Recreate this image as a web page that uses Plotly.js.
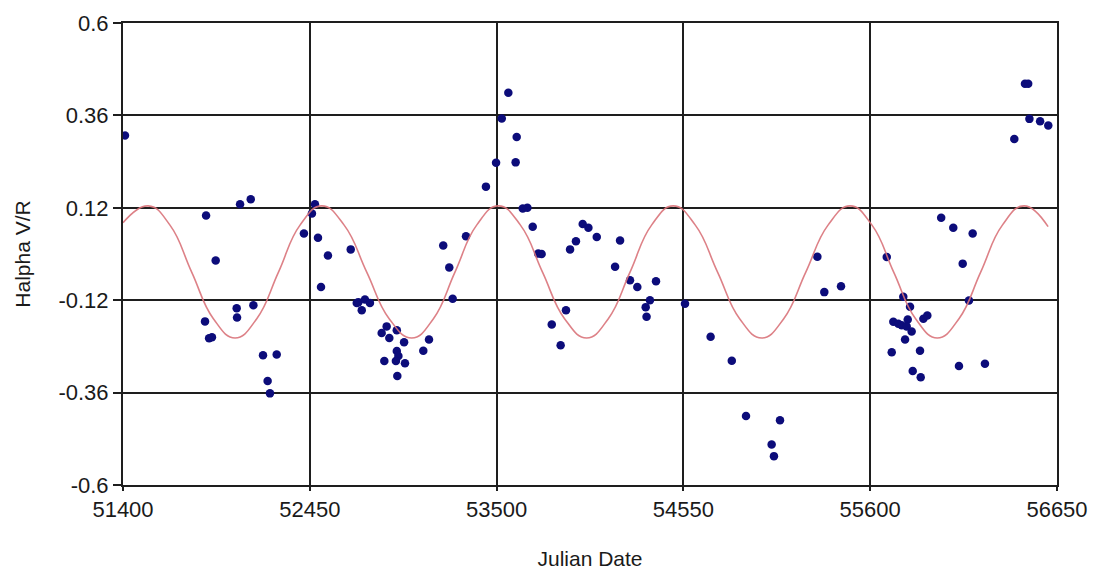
<!DOCTYPE html>
<html>
<head>
<meta charset="utf-8">
<script src="https://cdn.plot.ly/plotly-3.0.1.min.js"></script>
<style>html,body{margin:0;padding:0;background:#fff;}#chart{width:1093px;height:571px;}</style>
</head>
<body>
<div id="chart"></div>
<script>
// Observed Halpha V/R measurements
const obsDate = [51411,51867,52058,52118,52479,52462,52417,52496,51921,52552,52680,52513,52714,52039,52133,52041,51861,51884,51900,52187,52264,52213,52226,
  52723,52760,52788,52742,52882,52854,52897,52939,52980,52939,52948,52934,52869,52985,52942,53088,53120,53200,53234,53253,53328,53440,
  53566,53529,53613,53497,53607,53647,53673,53703,53734,53753,53984,54016,53946,53913,54063,54194,54166,54250,54291,54396,54362,54338,54343,
  54559,53890,53810,53860,54703,54822,54902,55093,55046,55059,55342,55436,55303,55693,55786,55824,55730,55758,55777,55811,55805,55833,
  55899,55921,55796,55721,55880,55839,55884,55999,56067,56176,56120,56155,56099,56245,56470,56488,56495,56555,56601,56410];
const obsVR = [0.308,0.10,0.129,0.142,0.129,0.105,0.053,0.042,-0.017,-0.004,0.012,-0.086,-0.127,-0.141,-0.133,-0.165,-0.175,-0.219,-0.216,-0.263,-0.261,-0.33,-0.362,
  -0.125,-0.118,-0.127,-0.146,-0.188,-0.205,-0.218,-0.198,-0.229,-0.252,-0.265,-0.278,-0.278,-0.284,-0.317,-0.251,-0.222,0.022,-0.035,-0.116,0.046,0.175,
  0.419,0.352,0.304,0.237,0.238,0.118,0.12,0.071,0.001,0.0,0.078,0.068,0.033,0.012,0.044,0.035,-0.033,-0.068,-0.086,-0.071,-0.12,-0.138,-0.163,
  -0.129,-0.146,-0.183,-0.237,-0.215,-0.277,-0.421,-0.432,-0.495,-0.525,-0.099,-0.084,-0.007,-0.008,-0.111,-0.137,-0.176,-0.181,-0.185,-0.17,-0.188,-0.201,
  -0.168,-0.16,-0.222,-0.255,-0.251,-0.304,-0.32,0.094,0.068,0.053,-0.025,-0.121,-0.291,-0.285,0.442,0.442,0.351,0.345,0.334,0.299];

// Fitted periodic curve
const fitDate = [51400,51542,51664,51786,51908,52030,52152,52274,52395,52517,52643,52770,52896,53023,53145,53266,53388,53510,53634,53758,53882,54006,
  54128,54250,54371,54493,54617,54742,54866,54990,55114,55238,55363,55487,55610,55732,55855,55977,56099,56221,56343,56465,56600];
const fitVR = [0.081,0.125,0.075,-0.047,-0.168,-0.218,-0.168,-0.047,0.075,0.125,0.075,-0.047,-0.168,-0.218,-0.168,-0.047,0.075,0.125,0.075,-0.047,-0.168,-0.218,
  -0.168,-0.047,0.075,0.125,0.075,-0.047,-0.168,-0.218,-0.168,-0.047,0.075,0.125,0.075,-0.047,-0.168,-0.218,-0.168,-0.047,0.075,0.125,0.071];

const xTicks = [51400,52450,53500,54550,55600,56650];
const yTicks = [-0.6,-0.36,-0.12,0.12,0.36,0.6];
const yTickText = ['-0.6','-0.36','-0.12','0.12','0.36','0.6'];

const traces = [
  {x: obsDate, y: obsVR, type: 'scatter', mode: 'markers',
   marker: {color: '#0c0c7a', size: 8.5}, hoverinfo: 'x+y'},
  {x: fitDate, y: fitVR, type: 'scatter', mode: 'lines',
   line: {color: '#d9737a', width: 1.6, shape: 'spline', smoothing: 1.3}, opacity: 0.9}
];

const layout = {
  width: 1093, height: 571,
  margin: {l: 123, r: 36, t: 23, b: 86},
  paper_bgcolor: '#ffffff', plot_bgcolor: '#ffffff',
  showlegend: false,
  font: {family: 'Liberation Sans, Arial, sans-serif', color: '#1a1a1a'},
  xaxis: {
    range: [51400, 56650], tickvals: xTicks, ticktext: xTicks.map(String),
    showgrid: true, gridcolor: '#1e1e1e', gridwidth: 2,
    zeroline: false, showline: true, mirror: true, linecolor: '#1e1e1e', linewidth: 2,
    ticks: 'outside', ticklen: 4, tickcolor: '#1e1e1e', tickwidth: 2,
    tickfont: {size: 22, color: '#1a1a1a'},
    title: {text: 'Julian Date', font: {size: 21, color: '#1a1a1a'}, standoff: 30}
  },
  yaxis: {
    range: [-0.6, 0.6], tickvals: yTicks, ticktext: yTickText,
    showgrid: true, gridcolor: '#1e1e1e', gridwidth: 2,
    zeroline: false, showline: true, mirror: true, linecolor: '#1e1e1e', linewidth: 2,
    ticks: 'outside', ticklen: 8, tickcolor: '#1e1e1e', tickwidth: 2,
    tickfont: {size: 22, color: '#1a1a1a'},
    title: {text: 'Halpha V/R', font: {size: 21, color: '#1a1a1a'}, standoff: 22}
  }
};

Plotly.newPlot('chart', traces, layout, {displayModeBar: false, staticPlot: true});
</script>
</body>
</html>
